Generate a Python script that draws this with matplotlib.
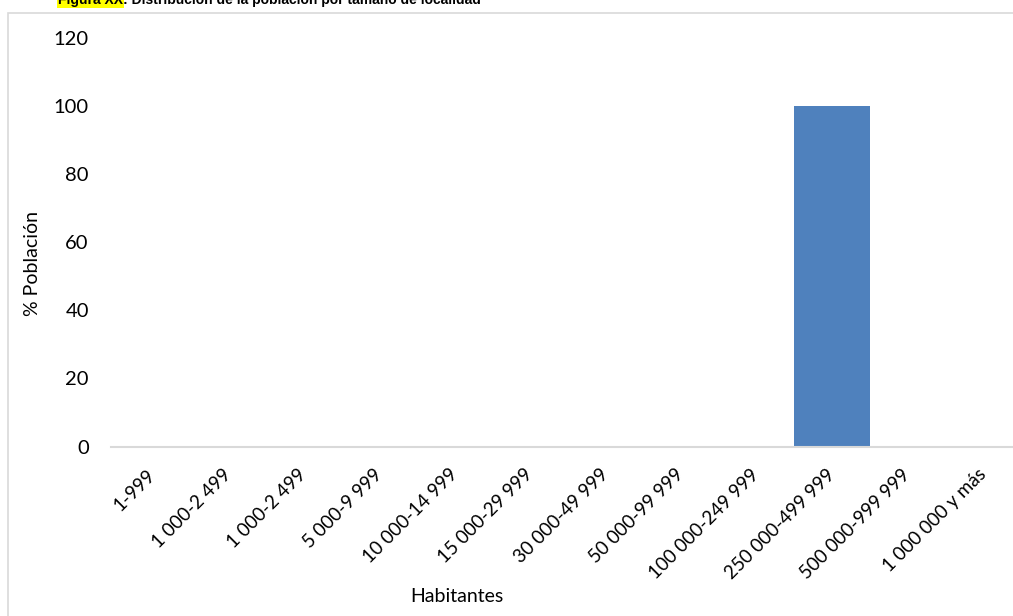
import matplotlib.pyplot as plt
from matplotlib.patches import Rectangle
from matplotlib.transforms import ScaledTranslation

# data
categories = ['1-999', '1 000-2 499', '1 000-2 499', '5 000-9 999', '10 000-14 999',
              '15 000-29 999', '30 000-49 999', '50 000-99 999', '100 000-249 999',
              '250 000-499 999', '500 000-999 999', '1 000 000 y más']
values = [0, 0, 0, 0, 0, 0, 0, 0, 0, 100, 0, 0]
yticks = [0, 20, 40, 60, 80, 100, 120]

plt.rcParams['font.family'] = ['Lato', 'DejaVu Sans']
W, H = 1013, 616
fig = plt.figure(figsize=(W / 100, H / 100), dpi=100)

# chart border (runs off the right and bottom edges like the reference)
fig.patches.append(Rectangle((8 / W, -0.1), 1.2, 1 - 12.5 / H + 0.1, transform=fig.transFigure,
                             fill=False, edgecolor='#d9d9d9', linewidth=1.2))

ax = fig.add_axes([111 / W, (H - 446.5) / H, (1024.5 - 111) / W, (446.5 - 38.3) / H])
x = range(len(categories))
ax.bar(x, values, width=1.0, color='#4f81bd')
ax.set_xlim(-0.55, 11.55)
ax.set_ylim(0, 120)
ax.set_yticks(yticks)
ax.set_xticks(list(x))
ax.set_xticklabels(categories, rotation=45, ha='right', va='top', rotation_mode='anchor', fontsize=13.5)
for s in ['top', 'right', 'left']:
    ax.spines[s].set_visible(False)
ax.spines['bottom'].set_color('#d9d9d9')
ax.spines['bottom'].set_linewidth(1.5)
ax.tick_params(axis='both', length=0, colors='black')
ax.tick_params(axis='y', pad=16, labelsize=14.5)
ax.tick_params(axis='x', pad=14)
shift = ScaledTranslation(-6 / 100, 0, fig.dpi_scale_trans)
for lbl in ax.get_xticklabels():
    lbl.set_transform(lbl.get_transform() + shift)

fig.text(457 / W, 1 - 597 / H, 'Habitantes', ha='center', va='center', fontsize=14)
fig.text(33 / W, 1 - 263 / H, '% Población', ha='center', va='center', rotation=90, fontsize=14)

# title, clipped at the top edge
t1 = fig.text(58 / W, 1 - 4 / H, 'Figura XX', ha='left', va='baseline', fontsize=10,
              fontweight='bold', family='Liberation Sans',
              bbox=dict(facecolor='yellow', edgecolor='none', pad=1))
fig.canvas.draw()
x1 = t1.get_window_extent().x1
fig.text(x1 / W, 1 - 4 / H, ': Distribución de la población por tamaño de localidad', ha='left',
         va='baseline', fontsize=10, fontweight='bold', family='Liberation Sans')

fig.savefig('out.png', dpi=100)
